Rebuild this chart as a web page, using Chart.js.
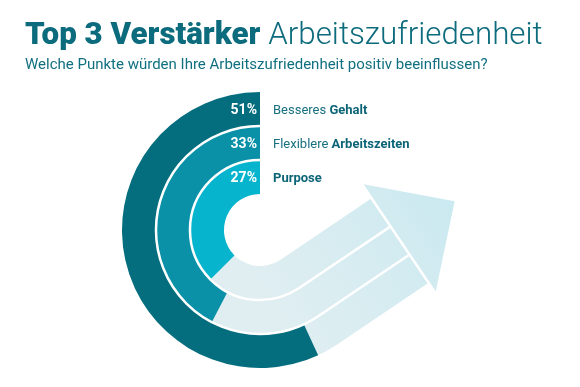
<!DOCTYPE html>
<html><head><meta charset="utf-8">
<script src="https://cdn.jsdelivr.net/npm/chart.js@4"></script>
<style>
html,body{margin:0;padding:0;background:#fff;}
#wrap{position:relative;width:580px;height:387px;overflow:hidden;background:#fff;}
canvas{position:absolute;left:0;top:0;}
.t{position:absolute;left:25px;white-space:nowrap;font-family:Roboto,sans-serif;color:#0c6b7c;}
#title{top:18px;font-size:31.3px;line-height:31px;}
#title b{font-weight:900}
#title span{font-weight:300}
#sub{top:57px;font-size:15px;line-height:15px;color:#117080;}
</style></head><body>
<div id="wrap">
<canvas id="c" width="580" height="387"></canvas>
<div class="t" id="title"><b>Top 3 Verstärker</b> <span>Arbeitszufriedenheit</span></div>
<div class="t" id="sub">Welche Punkte würden Ihre Arbeitszufriedenheit positiv beeinflussen?</div>
</div>
<script>
// ---- data ----
const categories = ['Besseres Gehalt', 'Flexiblere Arbeitszeiten', 'Purpose'];
const labelPlain = ['Besseres ', 'Flexiblere ', ''];
const labelBold = ['Gehalt', 'Arbeitszeiten', 'Purpose'];
const values = [51, 33, 27];
const valueLabels = ['51%', '33%', '27%'];

// ---- style / scale ----
const ringColors = ['#046e7e', '#0a91a8', '#06b5cd'];
const ARC_OFFSET_DEG = 56;   // gauge: sweep = offset + k * value
const DEG_PER_PCT = 2.92;
const TANGENT_DEG = 214;     // where the arrow leaves the circle (ccw from top)
const sweeps = values.map(v => ARC_OFFSET_DEG + DEG_PER_PCT * v);

const D = Math.PI / 180;
function ccwFromTop(theta) { return -Math.PI / 2 - theta * D; }

const arrowPlugin = {
  id: 'arrow',
  beforeDatasetsDraw(chart) {
    const ctx = chart.ctx;
    const a0 = chart.getDatasetMeta(0).data[1];
    const a2 = chart.getDatasetMeta(2).data[1];
    const cx = a0.x, cy = a0.y, R = a0.outerRadius, r = a2.innerRadius;
    const aT = ccwFromTop(TANGENT_DEG) + 2 * Math.PI;
    const aS = ccwFromTop(100) + 2 * Math.PI;
    const n = [Math.cos(aT), Math.sin(aT)], u = [Math.sin(aT), -Math.cos(aT)];
    const P = (rad, t) => [cx + rad * n[0] + t * u[0], cy + rad * n[1] + t * u[1]];
    const T1 = 109, T2 = 111.5;
    const g = ctx.createLinearGradient(cx - 40 * u[0], cy - 40 * u[1], cx + 180 * u[0], cy + 180 * u[1]);
    g.addColorStop(0, '#e0eef1');
    g.addColorStop(0.5, '#d6ecf1');
    g.addColorStop(1, '#cae9f0');
    ctx.save();
    ctx.fillStyle = g;
    ctx.beginPath();
    ctx.arc(cx, cy, R, aS, aT, true);
    let p = P(R, T1); ctx.lineTo(p[0], p[1]);
    p = P(r, T1); ctx.lineTo(p[0], p[1]);
    p = P(r, 0); ctx.lineTo(p[0], p[1]);
    ctx.arc(cx, cy, r, aT, aS, false);
    ctx.closePath();
    ctx.fill();
    // head
    ctx.beginPath();
    p = P(r - 16, T2); ctx.moveTo(p[0], p[1]);
    p = P(R + 11, T2); ctx.lineTo(p[0], p[1]);
    p = P((r + R) / 2 - 2, T2 + 66); ctx.lineTo(p[0], p[1]);
    ctx.closePath();
    ctx.fill();
    ctx.restore();
    chart._arrowGeom = { cx, cy, aT, P, T1 };
  },
  afterDatasetsDraw(chart) {
    const ctx = chart.ctx;
    const { cx, cy, aT, P, T1 } = chart._arrowGeom;
    ctx.save();
    ctx.strokeStyle = '#ffffff';
    ctx.lineWidth = 2.5;
    for (let i = 0; i < 2; i++) {
      const rad = chart.getDatasetMeta(i).data[1].innerRadius;
      ctx.beginPath();
      ctx.arc(cx, cy, rad, -Math.PI / 2, aT - 2 * Math.PI, true);
      const p = P(rad, T1);
      ctx.lineTo(p[0], p[1]);
      ctx.stroke();
    }
    // labels
    values.forEach((v, i) => {
      const arc = chart.getDatasetMeta(i).data[1];
      const mid = (arc.innerRadius + arc.outerRadius) / 2;
      const y = cy - mid + 2;
      ctx.textBaseline = 'middle';
      ctx.textAlign = 'right';
      ctx.fillStyle = '#ffffff';
      ctx.font = '700 14px Roboto';
      ctx.fillText(valueLabels[i], cx - 3, y);
      ctx.textAlign = 'left';
      let x = cx + 13;
      ctx.fillStyle = '#17707f';
      ctx.font = '400 13px Roboto';
      ctx.fillText(labelPlain[i], x, y);
      x += ctx.measureText(labelPlain[i]).width;
      ctx.fillStyle = '#0c6577';
      ctx.font = '700 13px Roboto';
      ctx.fillText(labelBold[i], x, y);
    });
    ctx.restore();
  }
};

new Chart(document.getElementById('c'), {
  type: 'doughnut',
  data: {
    labels: ['', 'value'],
    datasets: values.map((v, i) => ({
      label: categories[i],
      data: [360 - sweeps[i], sweeps[i]],
      backgroundColor: ['rgba(0,0,0,0)', ringColors[i]],
      borderWidth: 0
    }))
  },
  options: {
    responsive: false,
    animation: false,
    events: [],
    radius: 138,
    cutout: 41,
    layout: { padding: { left: 0, right: 60, top: 73, bottom: 0 } },
    plugins: { legend: { display: false }, tooltip: { enabled: false } }
  },
  plugins: [arrowPlugin]
});
</script>
</body></html>
